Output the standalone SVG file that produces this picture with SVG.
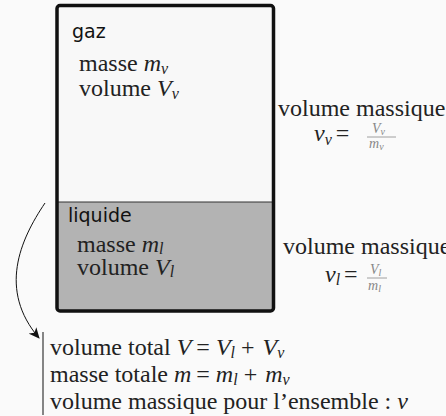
<svg xmlns="http://www.w3.org/2000/svg" width="446" height="416" viewBox="0 0 446 416">
<style>
.sans{font-family:"DejaVu Sans",sans-serif;font-size:19px;fill:#111}
.ser{font-size:24px;fill:#222}
.it{font-style:italic}
.sub{font-size:16px}
.frac{font-size:14px;fill:#888}
.fsub{font-size:10px}
</style>
<defs>
<marker id="ah" markerWidth="12" markerHeight="10" refX="10" refY="5" orient="auto" markerUnits="userSpaceOnUse">
<path d="M0,0 L11,5 L0,10 L3,5 Z" fill="#111"/>
</marker>
</defs>
<rect width="446" height="416" fill="#fafafa"/>
<g id="gaz" font-family="Liberation Serif, serif">
<rect x="57" y="5.5" width="216.5" height="305.5" rx="3" fill="#f8f8f8" stroke="none"/>
<text class="sans" x="72" y="38">gaz</text>
<text class="ser" x="79" y="71">masse <tspan class="it">m</tspan><tspan class="it sub" dy="3">v</tspan></text>
<text class="ser" x="79" y="96">volume <tspan class="it">V</tspan><tspan class="it sub" dy="3">v</tspan></text>
</g>
<g id="liquide" font-family="Liberation Serif, serif">
<rect x="57" y="202" width="216.5" height="109" fill="#b3b3b3"/>
<line x1="57" y1="202" x2="273.5" y2="202" stroke="#333" stroke-width="1"/>
<text class="sans" x="68" y="222">liquide</text>
<text class="ser" x="77" y="252">masse <tspan class="it">m</tspan><tspan class="it sub" dy="2">l</tspan></text>
<text class="ser" x="77" y="275">volume <tspan class="it">V</tspan><tspan class="it sub" dy="2">l</tspan></text>
</g>
<g id="container">
<rect x="57" y="5.5" width="216.5" height="305.5" rx="3" fill="none" stroke="#111" stroke-width="3.5"/>
</g>
<g id="massique-gaz" font-family="Liberation Serif, serif">
<text class="ser" x="278" y="116">volume massique</text>
<text class="ser" x="314" y="141"><tspan class="it">v</tspan><tspan class="it sub" dy="4">v</tspan><tspan dy="-4" dx="4">=</tspan></text>
<line x1="367" y1="137" x2="396" y2="137" stroke="#888" stroke-width="0.8"/>
<text class="frac" x="372" y="133"><tspan class="it">V</tspan><tspan class="it fsub" dy="2">v</tspan></text>
<text class="frac" x="369" y="148"><tspan class="it">m</tspan><tspan class="it fsub" dy="2">v</tspan></text>
</g>
<g id="massique-liquide" font-family="Liberation Serif, serif">
<text class="ser" x="283" y="254">volume massique</text>
<text class="ser" x="325" y="282"><tspan class="it">v</tspan><tspan class="it sub" dy="3">l</tspan><tspan dy="-3" dx="4">=</tspan></text>
<line x1="367" y1="278" x2="387" y2="278" stroke="#888" stroke-width="0.8"/>
<text class="frac" x="370" y="274"><tspan class="it">V</tspan><tspan class="it fsub" dy="2">l</tspan></text>
<text class="frac" x="368" y="290"><tspan class="it">m</tspan><tspan class="it fsub" dy="2">l</tspan></text>
</g>
<g id="connectors">
<path d="M45,203 C20,240 -2,290 39,338" fill="none" stroke="#111" stroke-width="1" marker-end="url(#ah)"/>
</g>
<g id="ensemble" font-family="Liberation Serif, serif">
<line x1="43" y1="332" x2="43" y2="415" stroke="#111" stroke-width="1"/>
<text class="ser" x="50" y="355">volume total <tspan class="it">V</tspan><tspan dx="5">=</tspan><tspan class="it" dx="6">V</tspan><tspan class="it sub" dy="3">l</tspan><tspan dy="-3" dx="6">+</tspan><tspan class="it" dx="8">V</tspan><tspan class="it sub" dy="3">v</tspan></text>
<text class="ser" x="50" y="382">masse totale <tspan class="it">m</tspan><tspan dx="5">=</tspan><tspan class="it" dx="6">m</tspan><tspan class="it sub" dy="3">l</tspan><tspan dy="-3" dx="6">+</tspan><tspan class="it" dx="8">m</tspan><tspan class="it sub" dy="3">v</tspan></text>
<text class="ser" x="50" y="409">volume massique pour l’ensemble : <tspan class="it">v</tspan></text>
</g>
</svg>
